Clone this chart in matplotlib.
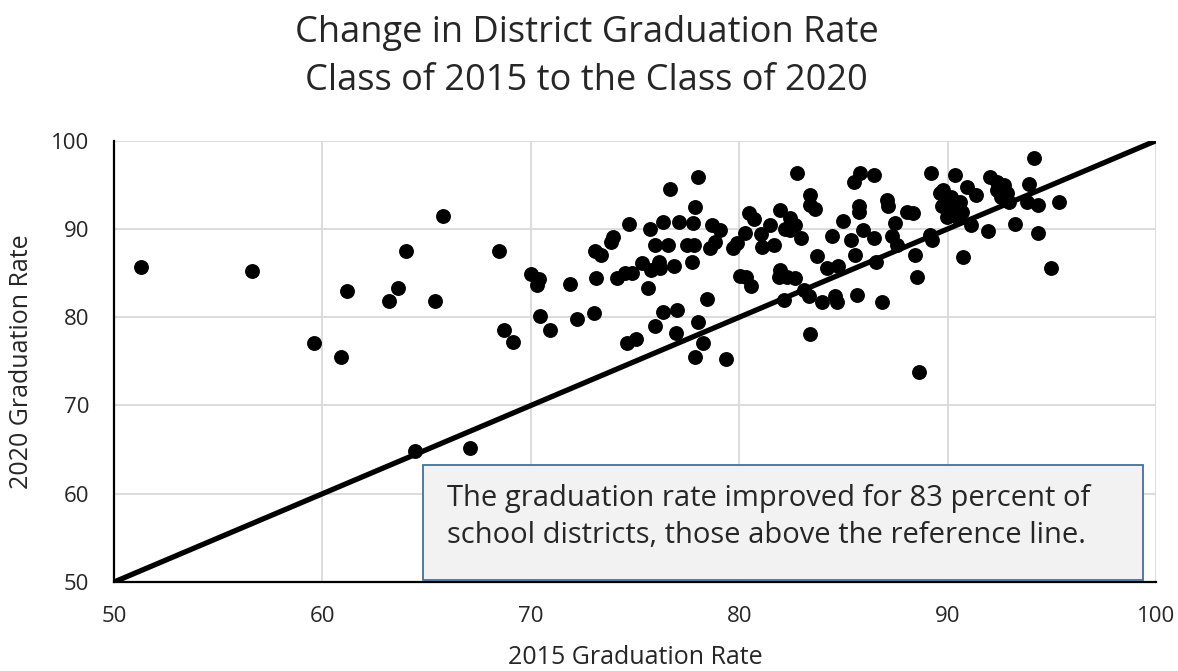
import matplotlib.pyplot as plt
from matplotlib.patches import Rectangle

# 2015 and 2020 graduation rates per district
rate_2015 = [51.3, 56.6, 59.6, 60.9, 61.2, 63.2, 63.65, 64.0, 65.4, 65.8,
             64.45, 67.1, 68.45, 68.7, 69.15, 70.0, 70.4, 70.3, 70.45, 70.9,
             71.9, 72.2, 73.05, 73.15, 73.1, 73.35, 73.85, 73.95, 74.7, 74.15,
             74.5, 74.85, 74.6, 75.05, 75.6, 75.35, 75.75, 76.15, 75.7, 75.95,
             75.95, 76.35, 76.6, 76.35, 76.2, 76.85, 76.7, 77.1, 77.0, 76.95,
             77.5, 77.85, 77.75, 77.8, 77.9, 78.0, 78.45, 78.0, 78.25, 77.9,
             79.35, 78.7, 79.1, 78.6, 78.85, 79.7, 79.9, 80.05, 80.35, 80.55,
             80.45, 80.7, 80.3, 82.75, 81.5, 81.1, 81.65, 81.05, 81.95, 82.45,
             82.45, 82.95, 82.7, 82.2, 83.4, 83.65, 83.4, 83.75, 81.95, 81.9,
             82.3, 82.7, 82.15, 83.1, 83.35, 83.95, 84.6, 84.7, 85.65, 86.85,
             83.4, 84.2, 84.75, 84.45, 85.0, 85.35, 85.55, 85.95, 86.45, 85.5,
             85.8, 86.45, 85.75, 85.75, 87.1, 87.15, 88.05, 88.35, 87.5, 87.35,
             87.55, 86.55, 88.45, 88.55, 88.65, 89.2, 89.25, 89.15, 90.35, 89.8,
             89.65, 90.15, 90.95, 91.35, 89.75, 90.05, 90.3, 90.6, 90.7, 89.95,
             90.45, 91.1, 90.75, 91.95, 92.05, 92.35, 92.7, 92.35, 92.55, 92.85,
             92.95, 93.25, 93.9, 94.15, 93.8, 94.35, 95.35, 94.35, 94.95]
rate_2020 = [85.7, 85.2, 77.1, 75.5, 83.0, 81.8, 83.3, 87.5, 81.8, 91.5,
             64.8, 65.2, 87.5, 78.5, 77.2, 84.9, 84.3, 83.6, 80.1, 78.5,
             83.8, 79.8, 80.45, 84.5, 87.5, 87.0, 88.55, 89.05, 90.55, 84.5,
             85.0, 85.0, 77.1, 77.5, 83.3, 86.1, 85.35, 86.3, 90.0, 88.2,
             79.05, 90.8, 88.2, 80.6, 85.55, 85.75, 94.5, 90.8, 80.8, 78.2,
             88.2, 88.2, 86.3, 90.65, 92.5, 95.85, 82.05, 79.5, 77.05, 75.55,
             75.25, 90.45, 89.9, 87.8, 88.55, 87.8, 88.45, 84.7, 84.6, 83.55,
             91.8, 91.1, 89.6, 96.3, 90.45, 88.0, 88.2, 89.4, 92.15, 91.2,
             89.9, 88.95, 90.45, 90.0, 93.85, 92.25, 92.7, 86.95, 85.35, 84.6,
             84.6, 84.4, 81.95, 83.1, 82.35, 81.75, 82.35, 81.75, 82.55, 81.75,
             78.1, 85.55, 85.8, 89.2, 90.85, 88.75, 87.05, 89.9, 88.95, 95.35,
             96.3, 96.1, 92.55, 91.95, 93.3, 92.6, 91.95, 91.85, 90.7, 89.15,
             88.2, 86.3, 87.05, 84.6, 73.8, 96.3, 88.75, 89.3, 96.1, 94.4,
             94.05, 93.65, 94.8, 93.85, 92.55, 91.95, 92.7, 93.1, 91.95, 91.4,
             91.4, 90.45, 86.85, 89.8, 95.9, 95.35, 95.0, 94.4, 93.65, 94.05,
             93.1, 90.55, 95.15, 98.0, 93.1, 92.7, 93.1, 89.5, 85.55]

ref_line = [50, 100]
ticks = [50, 60, 70, 80, 90, 100]
note = ("The graduation rate improved for 83 percent of\n"
        "school districts, those above the reference line.")

plt.rcParams['font.family'] = ['Open Sans', 'DejaVu Sans']

fig = plt.figure(figsize=(11.78, 6.71), dpi=100)
ax = fig.add_axes([0.0968, 0.1326, 0.8845, 0.6577])

ax.scatter(rate_2015, rate_2020, s=115, color='black', zorder=3, linewidths=0)
ax.plot(ref_line, ref_line, color='black', lw=3.8, zorder=4, solid_capstyle='butt')

ax.set_xlim(50, 100)
ax.set_ylim(50, 100)
ax.set_xticks(ticks)
ax.set_yticks(ticks)
ax.grid(True, color='#d9d9d9', lw=1.3, zorder=0)
ax.set_axisbelow(True)
for s in ['top', 'right']:
    ax.spines[s].set_visible(False)
ax.spines['left'].set_color('black')
ax.spines['bottom'].set_color('black')
ax.spines['left'].set_linewidth(1.6)
ax.spines['bottom'].set_linewidth(1.6)
ax.tick_params(length=0, labelsize=16, colors='#262626')
ax.tick_params(axis='x', pad=17)
ax.tick_params(axis='y', pad=18)

ax.set_xlabel("2015 Graduation Rate", fontsize=18, color='#262626')
ax.set_ylabel("2020 Graduation Rate", fontsize=18, color='#262626')
ax.xaxis.set_label_coords(0.5, -0.143)
ax.yaxis.set_label_coords(-0.077, 0.5)

fig.text(0.498, 0.915, "Change in District Graduation Rate\nClass of 2015 to the Class of 2020",
         fontsize=26, color='#262626', ha='center', va='center', linespacing=1.42)

# text box in the lower right
box = Rectangle((0.2965, 0.005), 0.691, 0.26, transform=ax.transAxes,
                facecolor='#f2f2f2', edgecolor='#41719c', lw=1.3, zorder=5)
ax.add_patch(box)
ax.text(0.3196, 0.148, note, transform=ax.transAxes, fontsize=21,
        color='#262626', va='center', ha='left', zorder=6, linespacing=1.38)

plt.savefig("out.png", dpi=100)
plt.close()
